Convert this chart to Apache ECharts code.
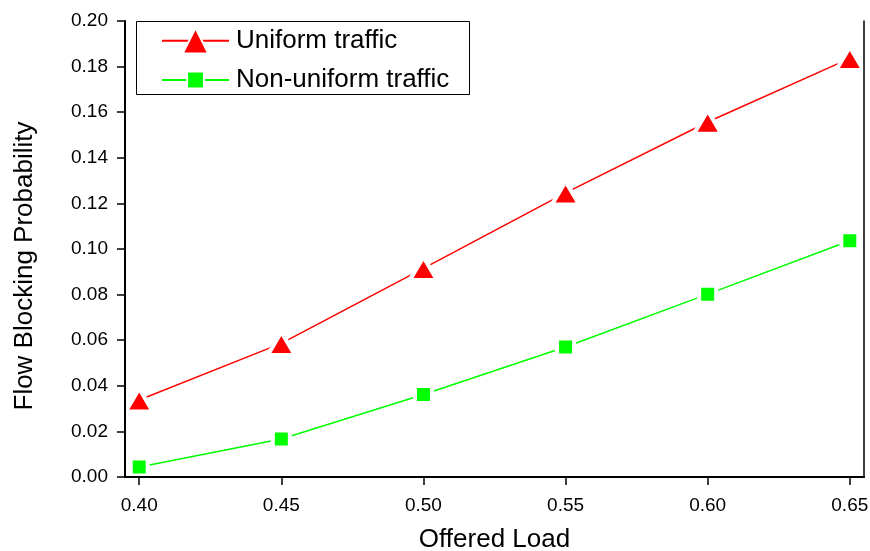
<!DOCTYPE html>
<html>
<head>
<meta charset="utf-8">
<script src="https://cdn.jsdelivr.net/npm/echarts@6/dist/echarts.min.js"></script>
<style>
html,body{margin:0;padding:0;background:#fff;}
#c{width:870px;height:551px;}
</style>
</head>
<body>
<div id="c"></div>
<script>
var offeredLoad = [0.40, 0.45, 0.50, 0.55, 0.60, 0.65];
var uniformTraffic = [0.0338, 0.0586, 0.0915, 0.1246, 0.1557, 0.1836];
var nonUniformTraffic = [0.0044, 0.0167, 0.0362, 0.0570, 0.0802, 0.1036];
var xTicks = [0.40, 0.45, 0.50, 0.55, 0.60, 0.65];
var seriesNames = ['Uniform traffic', 'Non-uniform traffic'];

var FONT = 'Liberation Sans, Arial, sans-serif';
function pairs(xs, ys){ return xs.map(function(x,i){ return [x, ys[i]]; }); }

var legendText = { fontFamily: FONT, fontSize: 26, color: '#000', padding: [0, 0, 0, 2] };

var chart = echarts.init(document.getElementById('c'));
chart.setOption({
  animation: false,
  backgroundColor: '#fff',
  grid: { left: 125, right: 6, top: 21, bottom: 74, show: false, containLabel: false, outerBoundsMode: 'none' },
  graphic: [{
    type: 'rect', z: 100,
    shape: { x: 136.5, y: 21.5, width: 333, height: 73 },
    style: { fill: null, stroke: '#000', lineWidth: 1 }
  }],
  legend: [{
    left: 161, top: 27, padding: 0,
    itemWidth: 67, itemHeight: 32,
    textStyle: legendText,
    data: [seriesNames[0]]
  }, {
    left: 161, top: 67, padding: 0,
    itemWidth: 67, itemHeight: 21,
    textStyle: legendText,
    data: [seriesNames[1]]
  }],
  xAxis: [{
    type: 'value', min: 0.395, max: 0.655, z: 10,
    name: 'Offered Load', nameLocation: 'middle', nameGap: 50,
    nameTextStyle: { fontFamily: FONT, fontSize: 26, color: '#000' },
    axisLine: { show: true, onZero: false, lineStyle: { color: '#000', width: 2 } },
    axisTick: { show: true, inside: false, length: 8, customValues: xTicks, lineStyle: { color: '#000', width: 1.5 } },
    axisLabel: { customValues: xTicks, margin: 19, fontFamily: FONT, fontSize: 19, color: '#000',
      formatter: function(v){ return v.toFixed(2); } },
    splitLine: { show: false }
  }, {
    type: 'value', min: 0.395, max: 0.655, position: 'top', z: 10,
    axisLine: { show: true, lineStyle: { color: '#000', width: 1.5 } },
    axisTick: { show: false }, axisLabel: { show: false }, splitLine: { show: false }
  }],
  yAxis: [{
    type: 'value', min: 0, max: 0.2, interval: 0.02, z: 10,
    name: 'Flow Blocking Probability', nameLocation: 'middle', nameGap: 87,
    nameTextStyle: { fontFamily: FONT, fontSize: 26, color: '#000', padding: [0, 34, 0, 0] },
    axisLine: { show: true, onZero: false, lineStyle: { color: '#000', width: 2 } },
    axisTick: { show: true, inside: false, length: 8, lineStyle: { color: '#000', width: 1.5 } },
    axisLabel: { margin: 17, fontFamily: FONT, fontSize: 19, color: '#000',
      formatter: function(v){ return v.toFixed(2); } },
    splitLine: { show: false }
  }, {
    type: 'value', min: 0, max: 0.2, position: 'right', z: 10,
    axisLine: { show: true, onZero: false, lineStyle: { color: '#000', width: 1.5 } },
    axisTick: { show: false }, axisLabel: { show: false }, splitLine: { show: false }
  }],
  series: [{
    name: seriesNames[0], type: 'line',
    data: pairs(offeredLoad, uniformTraffic),
    symbol: 'triangle', symbolSize: [27, 23],
    lineStyle: { color: '#ff0000', width: 1.5 },
    itemStyle: { color: '#ff0000', borderColor: '#fff', borderWidth: 4 },
    color: '#ff0000'
  }, {
    name: seriesNames[1], type: 'line',
    data: pairs(offeredLoad, nonUniformTraffic),
    symbol: 'rect', symbolSize: 17,
    lineStyle: { color: '#00ff00', width: 1.5 },
    itemStyle: { color: '#00ff00', borderColor: '#fff', borderWidth: 4 },
    color: '#00ff00'
  }]
});
</script>
</body>
</html>
